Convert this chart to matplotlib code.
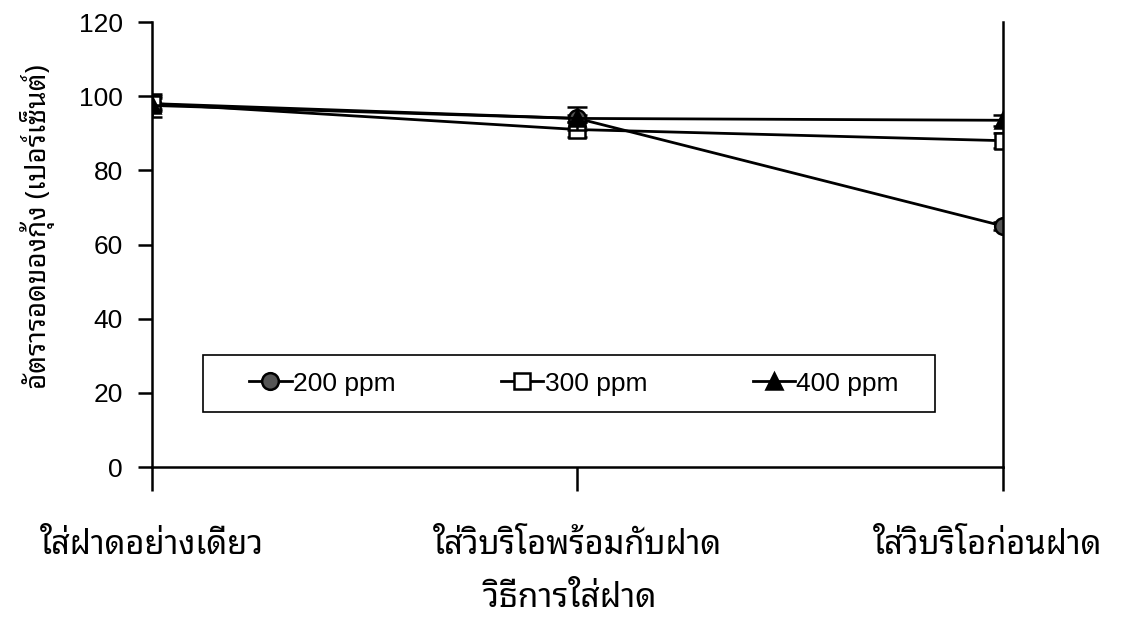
import matplotlib
matplotlib.use('Agg')
import matplotlib.pyplot as plt
from matplotlib.patches import Rectangle

thai = ['Noto Sans Thai Looped', 'DejaVu Sans']
plt.rcParams['font.family'] = ['Liberation Sans', 'DejaVu Sans']

# วิธีการใส่ฝาด (methods) and survival (%) per concentration
methods = ['ใส่ฝาดอย่างเดียว', 'ใส่วิบริโอพร้อมกับฝาด', 'ใส่วิบริโอก่อนฝาด']
ppm200 = [98, 94, 65]
ppm300 = [98, 91, 88]
ppm400 = [97.5, 94, 93.5]
err200 = [2, 1, 1]
err300 = [1.5, 2, 2]
err400 = [3, 3, 1.5]
labels = ['200 ppm', '300 ppm', '400 ppm']

fig = plt.figure(figsize=(11.24, 6.18), dpi=100)
ax = fig.add_axes([0.1352, 0.2443, 0.7571, 0.7201])

x = list(range(len(methods)))
series = [
    (ppm200, err200, 'o', '#555555', labels[0]),
    (ppm300, err300, 's', 'white', labels[1]),
    (ppm400, err400, '^', 'black', labels[2]),
]
for y, e, mk, fc, lab in series:
    ax.errorbar(x, y, yerr=e, fmt='none', ecolor='black', elinewidth=1.8, capsize=7, capthick=1.8)
    ax.plot(x, y, color='black', lw=2, marker=mk, mfc=fc, mec='black', mew=1.8, ms=12, label=lab)

ax.set_xlim(0, 2)
ax.set_ylim(0, 120)
ax.set_yticks(range(0, 121, 20))
ax.set_xticks(x)
ax.set_xticklabels([])
ax.spines['top'].set_visible(False)
for s in ['left', 'right', 'bottom']:
    ax.spines[s].set_linewidth(1.8)
ax.tick_params(axis='y', direction='out', length=10, width=1.8, pad=11, labelsize=19)
ax.tick_params(axis='x', direction='out', length=17, width=1.8)

label_x = [0, 1, 1.965]
for xi, m in zip(label_x, methods):
    ax.text(xi, -0.177, m, transform=ax.get_xaxis_transform(), ha='center', va='center',
            fontsize=23.5, family=thai)
fig.text(0.507, 0.032, 'วิธีการใส่ฝาด', ha='center', va='center', fontsize=24, family=thai)
fig.text(0.033, 0.633, 'อัตรารอดของกุ้ง (เปอร์เซ็นต์)', ha='center', va='center', rotation=90,
         fontsize=20, family=thai)

# legend box
ax.add_patch(Rectangle((0.0599, 0.1236), 0.8605, 0.1281, transform=ax.transAxes,
                       fill=False, ec='black', lw=1.2, zorder=3))
ax.legend(loc='center', bbox_to_anchor=(0.496, 0.1876), ncol=3, frameon=False, fontsize=19,
          handlelength=1.6, handletextpad=0.05, columnspacing=4.0)

fig.savefig('out.png')
